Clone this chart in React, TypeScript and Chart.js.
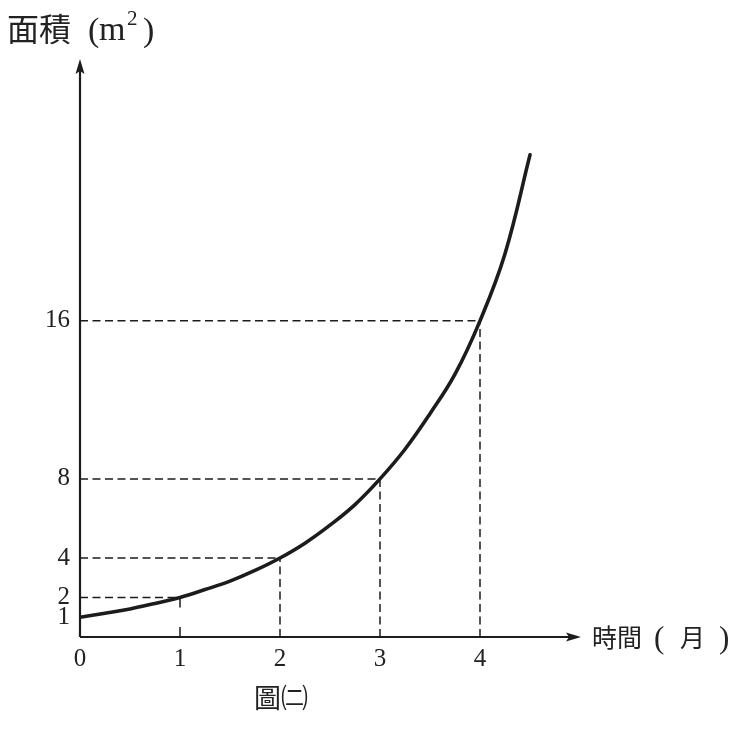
import { useEffect, useRef } from "react"
import { Chart, registerables } from "chart.js"

Chart.register(...registerables)

// curve
const timeMonths = [0, 0.25, 0.5, 0.75, 1, 1.25, 1.5, 1.75, 2, 2.25, 2.5, 2.75, 3, 3.25, 3.5, 3.75, 4, 4.25, 4.5]
const areaM2 = [1, 1.2, 1.42, 1.7, 2, 2.4, 2.83, 3.37, 4, 4.75, 5.66, 6.7, 8, 9.5, 11.3, 13.3, 16, 19.4, 24.4]

// tick labels
const xTicks = [0, 1, 2, 3, 4]
const yTicks = [1, 2, 4, 8, 16]

// dashed guide lines (x, y) on the curve
const guideX = [1, 2, 3, 4]
const guideY = [2, 4, 8, 16]
// guides where only small marks are drawn instead of a full vertical dash line
const shortMarkX = [1]

const INK = "#1c1c1c"
const SERIF = "'Liberation Serif', 'DejaVu Serif', serif"
const CJK = "'Noto Sans CJK TC', 'Noto Sans CJK SC', sans-serif"

const decorPlugin = {
  id: "decor",
  beforeDatasetsDraw(chart: Chart) {
    const { ctx } = chart
    const xs = chart.scales.x
    const ys = chart.scales.y
    const x0 = xs.getPixelForValue(0)
    const y0 = ys.getPixelForValue(0)
    ctx.save()
    ctx.strokeStyle = INK
    ctx.lineWidth = 1.5
    guideX.forEach((gx, i) => {
      const px = xs.getPixelForValue(gx)
      const py = ys.getPixelForValue(guideY[i])
      ctx.setLineDash([8, 4.5])
      ctx.beginPath()
      ctx.moveTo(x0, py)
      ctx.lineTo(px, py)
      ctx.stroke()
      if (shortMarkX.includes(gx)) {
        ctx.setLineDash([])
        ctx.beginPath()
        ctx.moveTo(px, py)
        ctx.lineTo(px, py + 10)
        ctx.moveTo(px, y0)
        ctx.lineTo(px, y0 - 10)
        ctx.stroke()
      } else {
        ctx.beginPath()
        ctx.moveTo(px, y0)
        ctx.lineTo(px, py)
        ctx.stroke()
      }
    })
    ctx.restore()
  },
  afterDraw(chart: Chart) {
    const { ctx, chartArea } = chart
    const { left, right, top, bottom } = chartArea
    ctx.save()
    ctx.setLineDash([])
    ctx.strokeStyle = INK
    ctx.fillStyle = INK
    ctx.lineWidth = 2.2
    // axes
    ctx.beginPath()
    ctx.moveTo(left, bottom)
    ctx.lineTo(right - 8, bottom)
    ctx.moveTo(left, bottom)
    ctx.lineTo(left, top + 8)
    ctx.stroke()
    // arrow heads
    ctx.beginPath()
    ctx.moveTo(right + 1, bottom)
    ctx.lineTo(right - 14, bottom - 4.5)
    ctx.lineTo(right - 11, bottom)
    ctx.lineTo(right - 14, bottom + 4.5)
    ctx.closePath()
    ctx.fill()
    ctx.beginPath()
    ctx.moveTo(left, top - 1)
    ctx.lineTo(left - 4.5, top + 14)
    ctx.lineTo(left, top + 11)
    ctx.lineTo(left + 4.5, top + 14)
    ctx.closePath()
    ctx.fill()

    // y axis title: 面積 (m²)
    ctx.fillStyle = "#222"
    ctx.textBaseline = "alphabetic"
    ctx.textAlign = "left"
    const ty = 40
    ctx.font = `32px ${CJK}`
    ctx.fillText("面積", 7, ty + 1)
    ctx.font = `34px ${SERIF}`
    ctx.fillText("(", 88, ty + 1)
    ctx.fillText("m", 99, ty)
    ctx.font = `21px ${SERIF}`
    ctx.fillText("2", 127, ty - 15)
    ctx.font = `34px ${SERIF}`
    ctx.fillText(")", 143, ty + 1)

    // x axis title: 時間 ( 月 )
    const bx = 592
    const by = bottom + 10
    ctx.font = `25px ${CJK}`
    ctx.fillText("時間", bx, by)
    ctx.fillText("月", bx + 88, by)
    ctx.font = `31px ${SERIF}`
    ctx.fillText("(", bx + 62, by + 1)
    ctx.fillText(")", bx + 127, by + 1)

    // caption
    ctx.font = `27px ${CJK}`
    ctx.fillText("圖㈡", 254, 708)
    ctx.restore()
  },
}

export default function App() {
  const chartRef = useRef<HTMLCanvasElement>(null)
  const chartInstance = useRef<Chart | null>(null)

  useEffect(() => {
    if (!chartRef.current) return
    if (chartInstance.current) chartInstance.current.destroy()
    const ctx = chartRef.current.getContext("2d")
    if (!ctx) return

    chartInstance.current = new Chart(ctx, {
      type: "scatter",
      data: {
        datasets: [
          {
            data: timeMonths.map((t, i) => ({ x: t, y: areaM2[i] })),
            showLine: true,
            borderColor: INK,
            borderWidth: 3.6,
            borderCapStyle: "round",
            borderJoinStyle: "round",
            pointRadius: 0,
            tension: 0.4,
          },
        ],
      },
      options: {
        animation: false,
        responsive: true,
        maintainAspectRatio: false,
        layout: { padding: { left: 0, top: 60, right: 164, bottom: 0 } },
        plugins: {
          legend: { display: false },
          tooltip: { enabled: false },
        },
        scales: {
          x: {
            type: "linear",
            min: 0,
            max: 5,
            grid: { display: false, drawTicks: false },
            border: { display: false },
            afterBuildTicks: (axis: any) => {
              axis.ticks = xTicks.map((v) => ({ value: v }))
            },
            afterFit: (axis: any) => {
              axis.height = 94
            },
            ticks: {
              autoSkip: false,
              maxRotation: 0,
              padding: 7,
              color: "#222",
              font: { family: SERIF, size: 25 },
            },
          },
          y: {
            type: "linear",
            min: 0,
            max: 29.2,
            grid: { display: false, drawTicks: false },
            border: { display: false },
            afterBuildTicks: (axis: any) => {
              axis.ticks = yTicks.map((v) => ({ value: v }))
            },
            afterFit: (axis: any) => {
              axis.width = 80
            },
            ticks: {
              autoSkip: false,
              padding: 10,
              color: "#222",
              font: { family: SERIF, size: 25 },
            },
          },
        },
      },
      plugins: [decorPlugin],
    })

    return () => {
      if (chartInstance.current) {
        chartInstance.current.destroy()
        chartInstance.current = null
      }
    }
  }, [])

  return (
    <div style={{ position: "fixed", left: 0, top: 0, width: 744, height: 731, background: "#fff" }}>
      <canvas ref={chartRef}></canvas>
    </div>
  )
}
